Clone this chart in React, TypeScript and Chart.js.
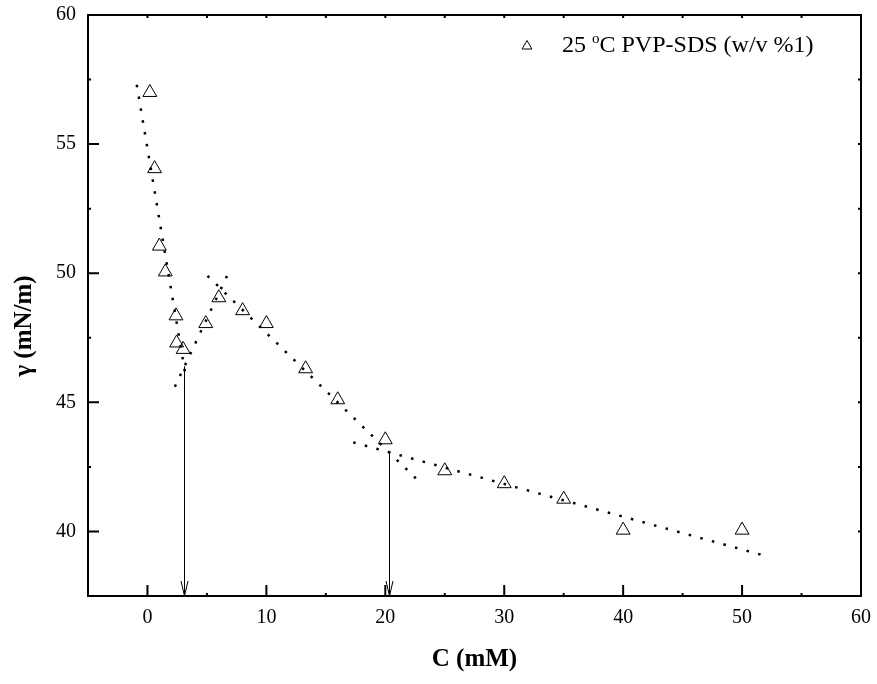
import React, { useEffect, useRef } from "react";
import { Chart, registerables } from "chart.js";

Chart.register(...registerables);

// ---- data ----
const concX = [0.2, 0.6, 1.0, 1.5, 2.4, 2.45, 3.0, 4.9, 6.0, 8.0, 10.0, 13.3, 16.0, 20.0, 25.0, 30.0, 35.0, 40.0, 50.0];
const gammaY = [57.0, 54.05, 51.05, 50.05, 48.35, 47.3, 47.05, 48.05, 49.05, 48.55, 48.05, 46.3, 45.1, 43.55, 42.35, 41.85, 41.25, 40.05, 40.05];

const fit1X = [-0.9, 3.25];
const fit1Y = [57.3, 45.9];
const fit2X = [2.3, 7.0];
const fit2Y = [45.6, 50.2];
const fit3X = [5.05, 22.7];
const fit3Y = [49.9, 42.0];
const fit4X = [17.3, 51.6];
const fit4Y = [43.45, 39.1];

const arrowX = [3.1, 20.3];
const arrowTopY = [46.4, 43.1];
const arrowTipY = [37.5, 37.5];

const xMajorTicks = [0, 10, 20, 30, 40, 50, 60];
const xMinorTicks = [-5, 5, 15, 25, 35, 45, 55];
const yMajorTicks = [40, 45, 50, 55, 60];
const yMinorTicks = [37.5, 42.5, 47.5, 52.5, 57.5];

const legendLabel = ["25 ", "o", "C PVP-SDS (w/v %1)"];
const xTitle = "C (mM)";
const yTitle = "γ (mN/m)";

const FONT = "'Liberation Serif', 'Times New Roman', serif";

const pts = (xs: number[], ys: number[]) => xs.map((v, i) => ({ x: v, y: ys[i] }));

const framePlugin = {
  id: "frameTicksArrows",
  afterDraw(chart: any) {
    const { ctx, chartArea, scales } = chart;
    const { left, right, top, bottom } = chartArea;
    const xs = scales.x;
    const ys = scales.y;
    ctx.save();
    ctx.strokeStyle = "#000";
    ctx.fillStyle = "#000";

    // arrows
    ctx.lineWidth = 1;
    arrowX.forEach((v, i) => {
      const px = Math.round(xs.getPixelForValue(v)) + 0.5;
      const y0 = ys.getPixelForValue(arrowTopY[i]);
      const y1 = ys.getPixelForValue(arrowTipY[i]);
      ctx.beginPath();
      ctx.moveTo(px, y0);
      ctx.lineTo(px, y1);
      ctx.moveTo(px - 3.5, y1 - 15);
      ctx.lineTo(px, y1);
      ctx.lineTo(px + 3.5, y1 - 15);
      ctx.stroke();
    });

    // frame
    ctx.lineWidth = 2;
    ctx.strokeRect(left, top, right - left, bottom - top);

    // ticks
    const major = 11;
    const minor = 3;
    ctx.beginPath();
    xMajorTicks.forEach((v) => {
      const px = xs.getPixelForValue(v);
      ctx.moveTo(px, bottom);
      ctx.lineTo(px, bottom - major);
      ctx.moveTo(px, top);
      ctx.lineTo(px, top + minor);
    });
    xMinorTicks.forEach((v) => {
      const px = xs.getPixelForValue(v);
      ctx.moveTo(px, bottom);
      ctx.lineTo(px, bottom - minor);
      ctx.moveTo(px, top);
      ctx.lineTo(px, top + minor);
    });
    yMajorTicks.forEach((v) => {
      const py = ys.getPixelForValue(v);
      ctx.moveTo(left, py);
      ctx.lineTo(left + major, py);
      ctx.moveTo(right, py);
      ctx.lineTo(right - minor, py);
    });
    yMinorTicks.forEach((v) => {
      const py = ys.getPixelForValue(v);
      ctx.moveTo(left, py);
      ctx.lineTo(left + minor, py);
      ctx.moveTo(right, py);
      ctx.lineTo(right - minor, py);
    });
    ctx.stroke();

    // y title
    ctx.save();
    ctx.translate(25, 326);
    ctx.rotate(-Math.PI / 2);
    ctx.font = `bold 25px ${FONT}`;
    ctx.textAlign = "center";
    ctx.textBaseline = "middle";
    ctx.fillText(yTitle, 0, 0);
    ctx.restore();

    // legend
    ctx.lineWidth = 1;
    const lx = 527;
    const ly = 46;
    const r = 5.5;
    ctx.beginPath();
    ctx.moveTo(lx, ly - r);
    ctx.lineTo(lx + r * 0.9, ly + r * 0.55);
    ctx.lineTo(lx - r * 0.9, ly + r * 0.55);
    ctx.closePath();
    ctx.stroke();

    ctx.textAlign = "left";
    ctx.textBaseline = "alphabetic";
    let tx = 562;
    const base = 52;
    ctx.font = `24px ${FONT}`;
    ctx.fillText(legendLabel[0], tx, base);
    tx += ctx.measureText(legendLabel[0]).width;
    ctx.font = `15px ${FONT}`;
    ctx.fillText(legendLabel[1], tx, base - 9);
    tx += ctx.measureText(legendLabel[1]).width;
    ctx.font = `24px ${FONT}`;
    ctx.fillText(legendLabel[2], tx, base);

    ctx.restore();
  },
};

export default function App() {
  const ref = useRef<HTMLCanvasElement | null>(null);

  useEffect(() => {
    if (!ref.current) return;
    const fitStyle = {
      showLine: true,
      pointRadius: 0,
      borderColor: "#000",
      borderWidth: 2.5,
      borderDash: [2.5, 9.5],
      borderCapStyle: "butt",
      fill: false,
    };
    const chart = new Chart(ref.current, {
      type: "scatter",
      data: {
        datasets: [
          { label: "fit1", data: pts(fit1X, fit1Y), ...fitStyle } as any,
          { label: "fit2", data: pts(fit2X, fit2Y), ...fitStyle } as any,
          { label: "fit3", data: pts(fit3X, fit3Y), ...fitStyle } as any,
          { label: "fit4", data: pts(fit4X, fit4Y), ...fitStyle } as any,
          {
            label: "25 °C PVP-SDS (w/v %1)",
            data: pts(concX, gammaY),
            pointStyle: "triangle",
            pointRadius: 8,
            borderColor: "#000",
            borderWidth: 1,
            backgroundColor: "rgba(0,0,0,0)",
            showLine: false,
          } as any,
        ],
      },
      options: {
        responsive: false,
        animation: false,
        events: [],
        layout: { padding: { top: 15, right: 16, left: 0, bottom: 0 } },
        plugins: { legend: { display: false }, tooltip: { enabled: false } },
        scales: {
          x: {
            type: "linear",
            min: -5,
            max: 60,
            afterBuildTicks: (s: any) => {
              s.ticks = xMajorTicks.map((v) => ({ value: v }));
            },
            afterFit: (s: any) => {
              s.height = 88;
              s.paddingLeft = 0;
              s.paddingRight = 0;
            },
            grid: { display: false, drawTicks: false },
            border: { display: false },
            ticks: {
              padding: 10,
              color: "#000",
              autoSkip: false,
              maxRotation: 0,
              font: { family: FONT, size: 20 },
            },
            title: {
              display: true,
              text: xTitle,
              color: "#000",
              font: { family: FONT, size: 25, weight: "bold" },
              padding: { top: 0, bottom: 9 },
            },
          },
          y: {
            type: "linear",
            min: 37.5,
            max: 60,
            afterBuildTicks: (s: any) => {
              s.ticks = yMajorTicks.map((v) => ({ value: v }));
            },
            afterFit: (s: any) => {
              s.width = 88;
              s.paddingTop = 0;
              s.paddingBottom = 0;
            },
            grid: { display: false, drawTicks: false },
            border: { display: false },
            ticks: {
              padding: 12,
              color: "#000",
              autoSkip: false,
              font: { family: FONT, size: 20 },
            },
          },
        },
      } as any,
      plugins: [framePlugin],
    });
    return () => chart.destroy();
  }, []);

  return (
    <div style={{ position: "absolute", left: 0, top: 0, width: 877, height: 684, background: "#fff" }}>
      <canvas ref={ref} width={877} height={684} style={{ display: "block" }} />
    </div>
  );
}
